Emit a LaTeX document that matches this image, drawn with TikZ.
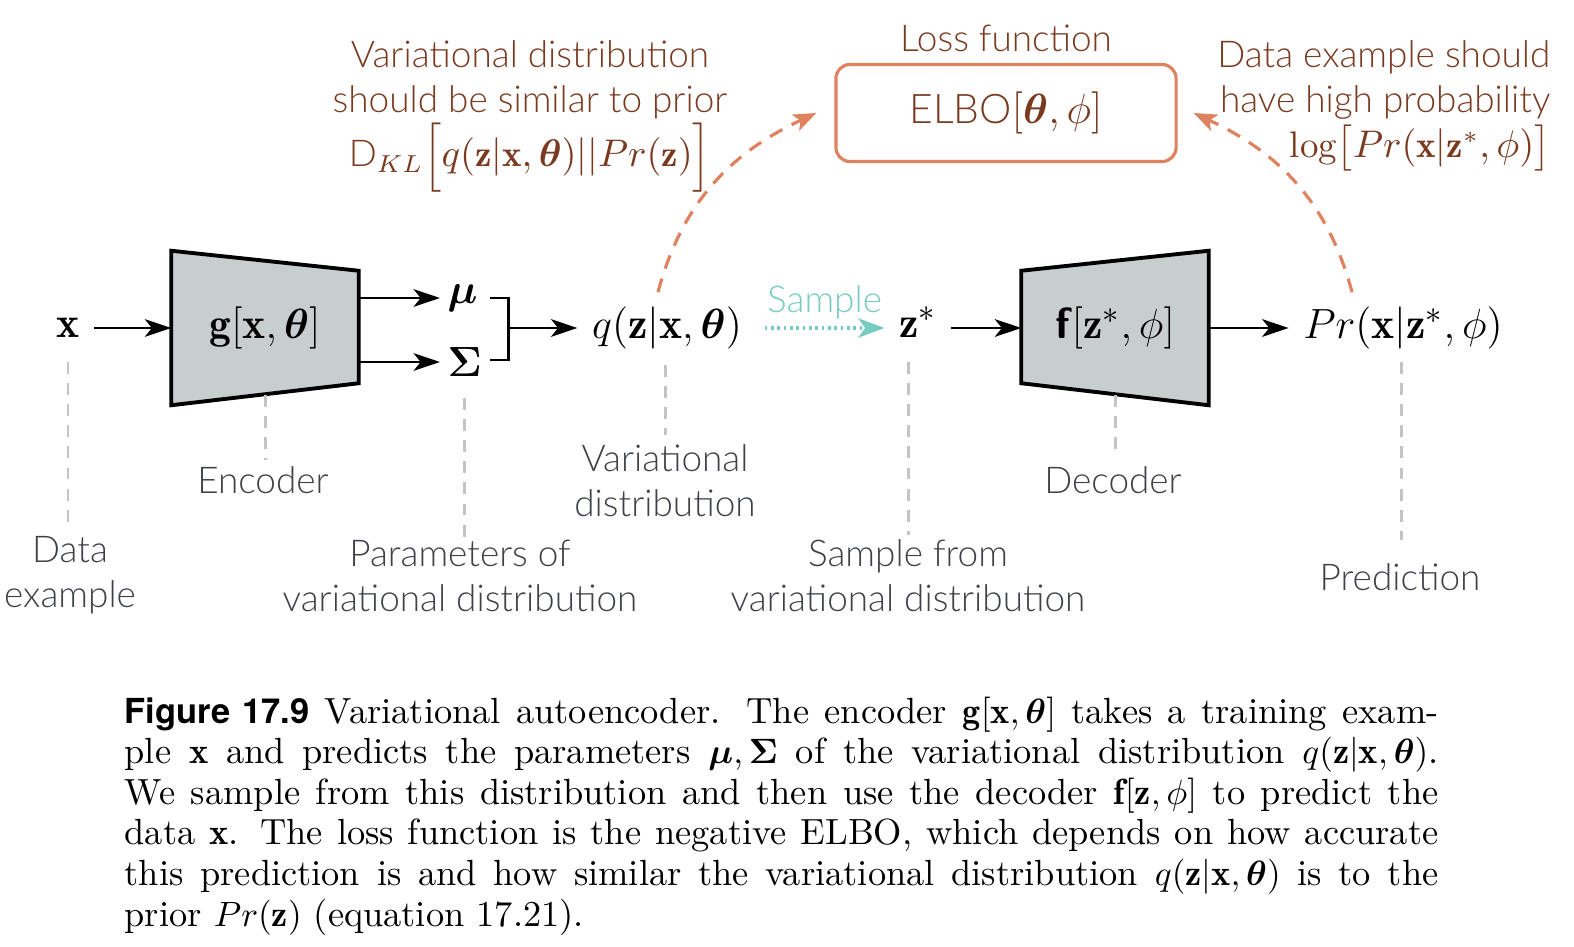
\documentclass[tikz,border=0pt]{standalone}
\usepackage{amsmath,bm}
\usepackage{fontspec}
\newfontfamily\labf{Lato Light}
\newfontfamily\capsf{TeX Gyre Heros}
\usetikzlibrary{arrows.meta,calc,backgrounds}
\definecolor{brn}{RGB}{122,58,32}
\definecolor{org}{RGB}{222,130,96}
\definecolor{tealc}{RGB}{120,205,195}
\definecolor{labg}{RGB}{62,66,72}
\definecolor{dgray}{RGB}{196,196,196}
\definecolor{trapf}{RGB}{200,205,208}
\begin{document}
\begin{tikzpicture}[x=0.01cm,y=-0.01cm,
  mth/.style={font=\fontsize{12.4}{14.9}\selectfont, inner sep=4pt},
  trapn/.style={minimum width=1.86cm, minimum height=1.53cm, inner sep=0pt, font=\fontsize{12.4}{14.9}\selectfont},
  trap/.style={draw=black, fill=trapf, line width=1.1pt, line join=miter},
  arr/.style={-{Stealth[length=7.5pt,width=5pt,inset=2pt]}, line width=0.85pt},
  plain/.style={line width=0.85pt},
  gd/.style={draw=dgray, line width=0.85pt, dash pattern=on 3.4pt off 2.6pt},
  od/.style={draw=org, line width=0.9pt, dash pattern=on 4pt off 3pt, -{Stealth[length=6.5pt,width=5pt,inset=1.5pt,fill=org]}},
  samp/.style={draw=tealc, line width=1.1pt, dash pattern=on 0.8pt off 1pt, -{Stealth[length=7.5pt,width=5.5pt,inset=2pt,fill=tealc]}},
  lab/.style={font=\labf\fontsize{10.5}{12.8}\selectfont, text=labg, align=center, inner sep=0pt},
  brlab/.style={font=\labf\fontsize{10.5}{12.8}\selectfont, text=brn, align=center, inner sep=0pt},
  elbobox/.style={draw=org, line width=0.9pt, rounded corners=4pt, minimum width=3.4cm, minimum height=0.97cm, text=brn, font=\labf\fontsize{11.6}{13.9}\selectfont}
]
\useasboundingbox (0,0) rectangle (1574,946);

% main row
\node[mth] (x) at (68,328) {$\mathbf{x}$};
\node[trapn] (enc) at (265,328) {$\mathbf{g}[\mathbf{x},\bm\theta]$};
\begin{scope}[on background layer]
\draw[trap] (enc.north west) -- ($(enc.north east)+(0,20)$) -- ($(enc.south east)+(0,-22)$) -- (enc.south west) -- cycle;
\end{scope}
\node[mth, anchor=west, inner sep=2pt] (mu) at (440,298) {$\bm\mu$};
\node[mth, anchor=west, inner sep=2pt] (sig) at (440,362) {$\bm\Sigma$};
\node[mth] (q) at (667,328) {$q(\mathbf{z}|\mathbf{x},\bm\theta)$};
\node[mth] (z) at (918,322) {$\mathbf{z}^*$};
\node[trapn] (dec) at (1115,328) {$\textbf{\textsf{f}}[\mathbf{z}^*,\phi]$};
\begin{scope}[on background layer]
\draw[trap] ($(dec.north west)+(0,20)$) -- (dec.north east) -- (dec.south east) -- ($(dec.south west)+(0,-22)$) -- cycle;
\end{scope}
\node[mth] (pr) at (1403,328) {$Pr(\mathbf{x}|\mathbf{z}^*,\phi)$};

\draw[arr] (x) -- (enc.west);
\draw[arr] (enc.east |- mu.west) -- (mu.west);
\draw[arr] (enc.east |- sig.west) -- (sig.west);
\coordinate (bt) at (490,298);
\coordinate (bb) at (490,360);
\coordinate (bm) at (508,328);
\draw[plain] (bt) -- ++(18,0) |- (bb);
\draw[arr] (bm) -- (q.west);
\draw[samp] ($(q.east)+(8,0)$) -- (z.west |- q.east) node[midway, above=2pt, lab, text=tealc] {Sample};
\draw[arr] (z.east |- dec.west) -- (dec.west);
\draw[arr] (dec.east) -- (pr.west);

% loss
\node[lab, text=brn, anchor=base] (loss) at (1006,52) {Loss function};
\node[elbobox] (elbo) at (1006,113) {ELBO$[\bm\theta,\phi]$};
\node[brlab, anchor=north] (kl) at (530,40) {Variational distribution\\should be similar to prior\\$\text{D}_{KL}\Big[q(\mathbf{z}|\mathbf{x},\bm\theta)||Pr(\mathbf{z})\Big]$};
\node[brlab, align=right, anchor=north east] (dp) at (1551,40) {Data example should\\have high probability\\$\log\bigl[Pr(\mathbf{x}|\mathbf{z}^*,\phi)\bigr]$};
\draw[od] ($(q.north)+(-9,0)$) to[out=75,in=205] ($(elbo.west)+(-18,0)$);
\draw[od] ($(pr.north)+(-51,0)$) to[out=105,in=-25] ($(elbo.east)+(16,0)$);

% labels
\node[lab, anchor=north] (lx) at (70,536) {Data\\example};
\node[lab, anchor=north] (lenc) at (263,466) {Encoder};
\node[lab, anchor=north] (lpar) at (460,539) {Parameters of\\variational distribution};
\node[lab, anchor=north] (lq) at (665,444) {Variational\\distribution};
\node[lab, anchor=north] (lz) at (908,539) {Sample from\\variational distribution};
\node[lab, anchor=north] (ldec) at (1113,466) {Decoder};
\node[lab, anchor=north] (lpr) at (1400,563) {Prediction};

\draw[gd] (x.south |- 0,362) -- (x.south |- 0,530);
\draw[gd] (enc.south |- 0,395) -- (enc.south |- 0,460);
\draw[gd] (sig.south |- 0,398) -- (sig.south |- 0,540);
\draw[gd] (665,365) -- (665,435);
\draw[gd] (908,362) -- (908,535);
\draw[gd] (dec.south |- 0,395) -- (dec.south |- 0,455);
\draw[gd] (1401,362) -- (1401,540);

% caption
\node[anchor=north west, inner sep=0pt, text width=13.13cm, align=justify, font=\fontsize{10.35}{11.55}\selectfont] (cap) at (124,696) {%
{\capsf\bfseries\fontsize{9.8}{11.5}\selectfont Figure 17.9} Variational autoencoder. The encoder $\mathbf{g}[\mathbf{x},\bm\theta]$ takes a training exam-\linebreak
ple $\mathbf{x}$ and predicts the parameters $\bm\mu,\bm\Sigma$ of the variational distribution $q(\mathbf{z}|\mathbf{x},\bm\theta)$.\linebreak
We sample from this distribution and then use the decoder $\mathbf{f}[\mathbf{z},\phi]$ to predict the\linebreak
data $\mathbf{x}$. The loss function is the negative ELBO, which depends on how accurate\linebreak
this prediction is and how similar the variational distribution $q(\mathbf{z}|\mathbf{x},\bm\theta)$ is to the\linebreak
prior $Pr(\mathbf{z})$ (equation 17.21).};
\end{tikzpicture}
\end{document}
